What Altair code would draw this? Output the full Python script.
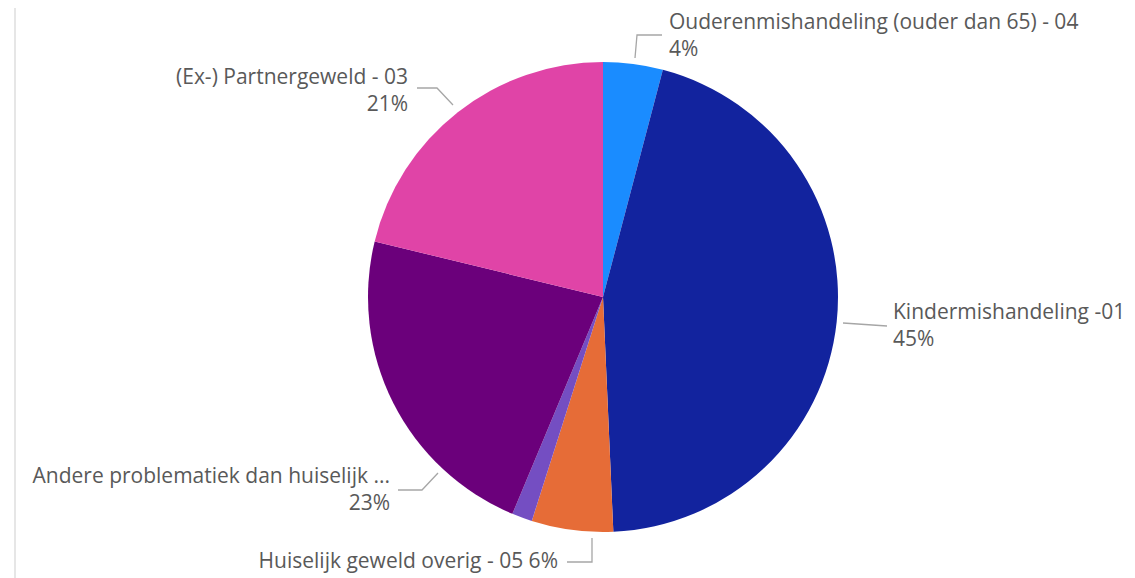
import altair as alt
import pandas as pd

# ---- data ----
categories = [
    "Ouderenmishandeling (ouder dan 65) - 04",
    "Kindermishandeling -01",
    "Huiselijk geweld overig - 05",
    "Overig",
    "Andere problematiek dan huiselijk ...",
    "(Ex-) Partnergeweld - 03",
]
values = [4.1, 45.2, 5.6, 1.4, 22.5, 21.2]
colors = ["#1A8CFF", "#12239E", "#E66C37", "#744EC2", "#6B007B", "#E044A7"]
percent_labels = ["4%", "45%", "6%", "", "23%", "21%"]

W, H = 1119, 570
CX, CY, R = 595, 289, 235

pie_df = pd.DataFrame({"cat": categories, "val": values, "order": range(len(values))})

pie = alt.Chart(pie_df).mark_arc(radius=R).encode(
    theta=alt.Theta("val:Q", stack=True),
    order=alt.Order("order:Q"),
    color=alt.Color("cat:N", scale=alt.Scale(domain=categories, range=colors), legend=None),
    x=alt.value(CX),
    y=alt.value(CY),
)

# ---- annotation layout (chart pixel coords) ----
leader_pts = [
    (0, 627, 50), (0, 629, 27), (0, 654, 27),
    (1, 835, 315), (1, 879, 318),
    (2, 584, 530), (2, 584, 554), (2, 559, 554),
    (4, 430, 465), (4, 414, 482), (4, 390, 482),
    (5, 445, 97), (5, 429, 80), (5, 409, 80),
]
lead_df = pd.DataFrame(leader_pts, columns=["id", "x", "y"])
lead_df["i"] = range(len(lead_df))
leaders = alt.Chart(lead_df).mark_line(color="#A6A6A6", strokeWidth=1.3).encode(
    x=alt.X("x:Q", scale=None, axis=None),
    y=alt.Y("y:Q", scale=None, axis=None),
    detail="id:N",
    order="i:Q",
)

label_rows = []
# (slice index, x, y, align, two-line?)
layout = [
    (0, 661, 15, "left", True),
    (1, 885, 305, "left", True),
    (2, 550, 554, "right", False),
    (4, 382, 469, "right", True),
    (5, 400, 70, "right", True),
]
for idx, lx, ly, al, two in layout:
    if two:
        label_rows.append({"t": categories[idx], "x": lx, "y": ly, "a": al})
        label_rows.append({"t": percent_labels[idx], "x": lx, "y": ly + 27, "a": al})
    else:
        label_rows.append({"t": categories[idx] + " " + percent_labels[idx], "x": lx, "y": ly, "a": al})
lab_df = pd.DataFrame(label_rows)

def text_layer(align):
    return alt.Chart(lab_df[lab_df["a"] == align]).mark_text(
        align=align, baseline="middle", font="Open Sans", fontSize=21, color="#595959"
    ).encode(
        x=alt.X("x:Q", scale=None, axis=None),
        y=alt.Y("y:Q", scale=None, axis=None),
        text="t:N",
    )

border = alt.Chart(pd.DataFrame({"x": [7]})).mark_rule(color="#E6E6E6", strokeWidth=2).encode(
    x=alt.X("x:Q", scale=None, axis=None),
    y=alt.value(-8),
    y2=alt.value(H + 8),
)

chart = alt.layer(border, pie, leaders, text_layer("left"), text_layer("right")).properties(
    width=W, height=H, autosize=alt.AutoSizeParams(type="none"), padding=0
).configure_view(stroke=None)

chart.save("out.html", embed_options={"renderer": "svg", "actions": False})
